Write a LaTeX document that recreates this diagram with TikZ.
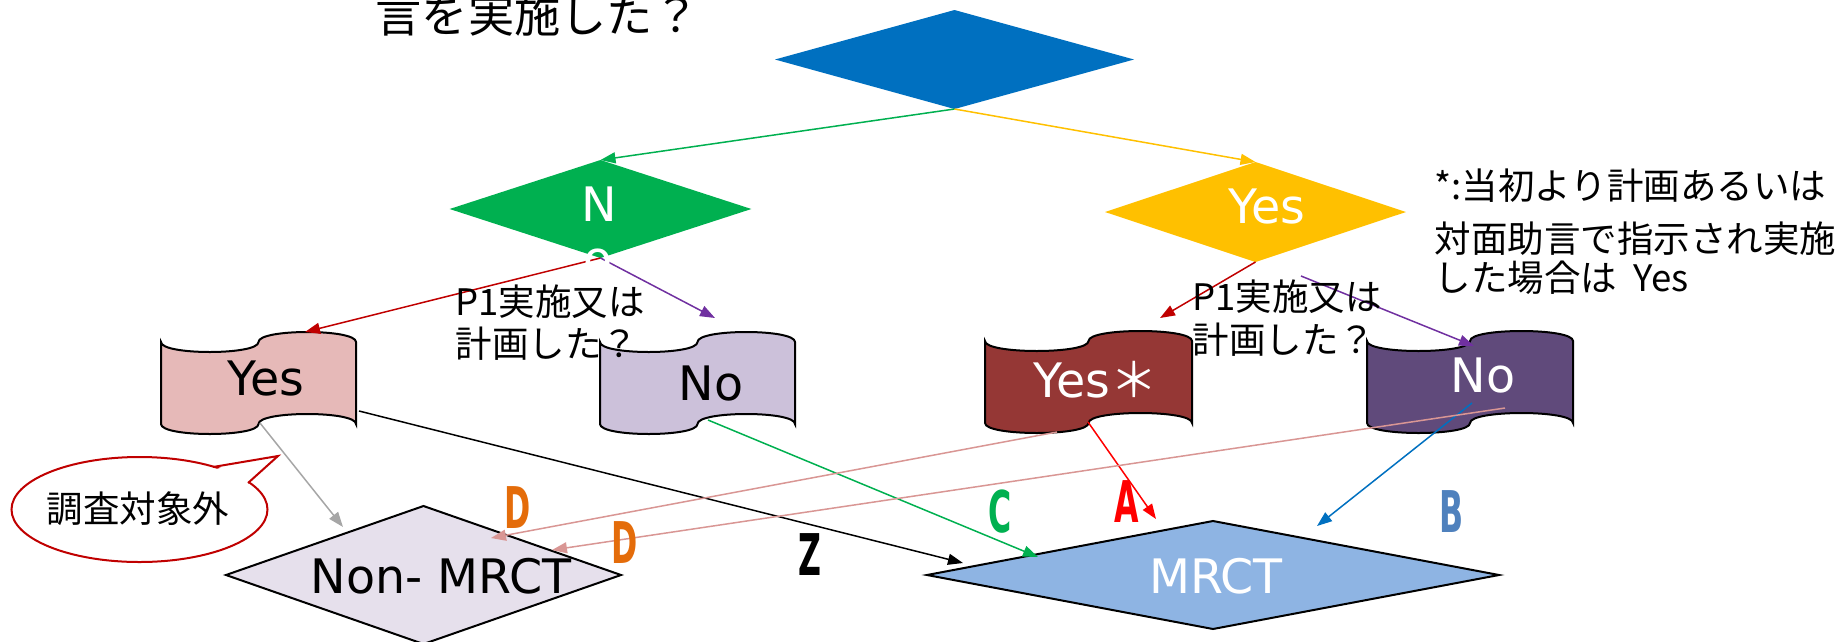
\documentclass[tikz,border=0pt]{standalone}
\usepackage{fontspec}
\setmainfont{DejaVu Sans}
\newfontfamily\jp{Noto Sans CJK JP}
\usetikzlibrary{shapes.geometric,arrows.meta}
\definecolor{cblue}{HTML}{0070C0}
\definecolor{cgreen}{HTML}{00B050}
\definecolor{cyellow}{HTML}{FFC000}
\definecolor{cpink}{HTML}{E6B9B8}
\definecolor{clav}{HTML}{CCC1DA}
\definecolor{cdred}{HTML}{953735}
\definecolor{cdpurp}{HTML}{604A7B}
\definecolor{cnonm}{HTML}{E6E0EC}
\definecolor{cmrct}{HTML}{8EB4E3}
\definecolor{cred}{HTML}{C00000}
\definecolor{cbright}{HTML}{FF0000}
\definecolor{cpurp}{HTML}{7030A0}
\definecolor{crose}{HTML}{D99694}
\definecolor{cgray}{HTML}{A6A6A6}
\definecolor{corange}{HTML}{E46C0A}
\definecolor{cletb}{HTML}{4F81BD}
\newcommand\tapeshape[6]{%
  \path[#1] ({#2},{#4}) .. controls ({#2},{#4+4/3*#6}) and ({(#2+#3)/2},{#4+4/3*#6}) .. ({(#2+#3)/2},{#4})
    .. controls ({(#2+#3)/2},{#4-4/3*#6}) and ({#3},{#4-4/3*#6}) .. ({#3},{#4})
    -- ({#3},{#5}) .. controls ({#3},{#5-4/3*#6}) and ({(#2+#3)/2},{#5-4/3*#6}) .. ({(#2+#3)/2},{#5})
    .. controls ({(#2+#3)/2},{#5+4/3*#6}) and ({#2},{#5+4/3*#6}) .. ({#2},{#5}) -- cycle;}
\begin{document}
\begin{tikzpicture}[x=0.4pt,y=-0.4pt,
  dia/.style={diamond, inner sep=0pt, outer sep=0pt},
  tapebox/.style={draw=black, line width=0.8pt},
  lbl/.style={inner sep=0pt, anchor=base, font=\fontsize{19}{19}\selectfont},
  jtxt/.style={inner sep=0pt, anchor=base west, font=\jp\fontsize{14.6}{14.6}\selectfont},
  letter/.style={inner sep=0pt, anchor=base, font=\bfseries\fontsize{23}{23}\selectfont},
  conn/.style={line width=0.6pt, -{Triangle[length=6pt,width=4.4pt]}}]
\path[use as bounding box] (0,0) rectangle (1835,641);
\clip (0,0) rectangle (1835,641);

% diamonds
\node[dia, fill=cblue, minimum width=143.6pt, minimum height=39.6pt] (top) at (954.5,59.5) {};
\node[dia, fill=cgreen, minimum width=120.7pt, minimum height=39.2pt] (no) at (600.5,209) {};
\node[dia, fill=cyellow, minimum width=120.4pt, minimum height=40pt] (yes) at (1255.5,212) {};
\node[dia, draw=black, line width=0.8pt, fill=cnonm, minimum width=158pt, minimum height=55.2pt] (nonm) at (423.5,575) {};
\node[dia, draw=black, line width=0.8pt, fill=cmrct, minimum width=228.8pt, minimum height=43.2pt] (mrct) at (1213,575) {};

% tape boxes
\tapeshape{tapebox, fill=cpink}{161}{356}{342}{424}{10}
\tapeshape{tapebox, fill=clav}{600}{795}{342}{424}{10}
\tapeshape{tapebox, fill=cdred}{985}{1192}{341}{423}{10}
\tapeshape{tapebox, fill=cdpurp}{1367}{1573}{341}{423}{10}

% speech bubble
\filldraw[draw=cred, fill=white, line width=0.8pt] (139.5,509.5) ellipse [x radius=128, y radius=52.5];
\fill[white] (211,470) -- (278,456) -- (246,486) -- cycle;
\draw[cred, line width=0.8pt, line join=miter] (213,467) -- (278,456) -- (248,483);

% endpoint coordinates
\coordinate (pinkT) at (305,332);
\coordinate (lavT) at (715,318);
\coordinate (drT) at (1160,318);
\coordinate (ys) at (1301,276);
\coordinate (dpT) at (1474,346);
\coordinate (pinkR) at (359,411);
\coordinate (mrctL) at (963,563);
\coordinate (pinkB) at (260,423);
\coordinate (nonmT) at (343,527);
\coordinate (lavB) at (708,420);
\coordinate (mrctC) at (1038,557);
\coordinate (drB) at (1088,422);
\coordinate (mrctA) at (1156,519);
\coordinate (dpB) at (1472,403);
\coordinate (mrctB) at (1317,526);
\coordinate (drBL) at (1057,432);
\coordinate (nonmD1) at (491,538);
\coordinate (dpR) at (1505,408);
\coordinate (nonmD2) at (552,550);

% connectors
\draw[conn, cgreen] (top.south) -- (no.north);
\draw[conn, cyellow] (top.south) -- (yes.north);
\draw[conn, cred] (no.south) -- (pinkT);
\draw[conn, cpurp] (no.south) -- (lavT);
\draw[conn, cred] (yes.south) -- (drT);
\draw[conn, cpurp] (ys) -- (dpT);
\draw[conn, black] (pinkR) -- (mrctL);
\draw[conn, cgray] (pinkB) -- (nonmT);
\draw[conn, cgreen] (lavB) -- (mrctC);
\draw[conn, cbright] (drB) -- (mrctA);
\draw[conn, cblue] (dpB) -- (mrctB);
\draw[conn, crose] (drBL) -- (nonmD1);
\draw[conn, crose] (dpR) -- (nonmD2);

% labels
\node[lbl, text=white] (tN) at (599,221) {N};
\node[lbl, text=white] (tNo) at (598,275) {o};
\node[lbl, text=white] (tYes) at (1267,223) {Yes};
\node[lbl, text=black] (tPinkYes) at (266,395) {Yes};
\node[lbl, text=black] (tLavNo) at (711,400) {No};
\node[lbl, text=white] (tRedYes) at (1096,397) {Yes{\jp ＊}};
\node[lbl, text=white] (tPurpNo) at (1483,392) {No};
\node[lbl, text=black] (tNonm) at (441,593) {Non- MRCT};
\node[lbl, text=white] (tMrct) at (1216,593) {MRCT};

% Japanese texts
\node[jtxt, font=\jp\fontsize{18.5}{18.5}\selectfont] (ttop) at (375,32) {言を実施した？};
\node[jtxt] (q1a) at (455,315) {P1実施又は};
\node[jtxt] (q1b) at (455,357) {計画した？};
\node[jtxt] (q2a) at (1192,310) {P1実施又は};
\node[jtxt] (q2b) at (1192,353) {計画した？};
\node[jtxt] (n1) at (1434,199) {*:当初より計画あるいは};
\node[jtxt] (n2) at (1434,252) {対面助言で指示され実施};
\node[jtxt] (n3) at (1434,291) {した場合は\ \ Yes};
\node[jtxt, anchor=base] (bub) at (138,522) {調査対象外};

% letters
\node[letter, text=corange] (lD1) at (518,528) {\scalebox{0.55}[1]{D}};
\node[letter, text=corange] (lD2) at (625,563) {\scalebox{0.55}[1]{D}};
\node[letter, text=black] (lZ) at (810,575) {\scalebox{0.55}[1]{Z}};
\node[letter, text=cgreen] (lC) at (1000,532) {\scalebox{0.55}[1]{C}};
\node[letter, text=cbright] (lA) at (1127,522) {\scalebox{0.55}[1]{A}};
\node[letter, text=cletb] (lB) at (1452,532) {\scalebox{0.55}[1]{B}};
\end{tikzpicture}
\end{document}
